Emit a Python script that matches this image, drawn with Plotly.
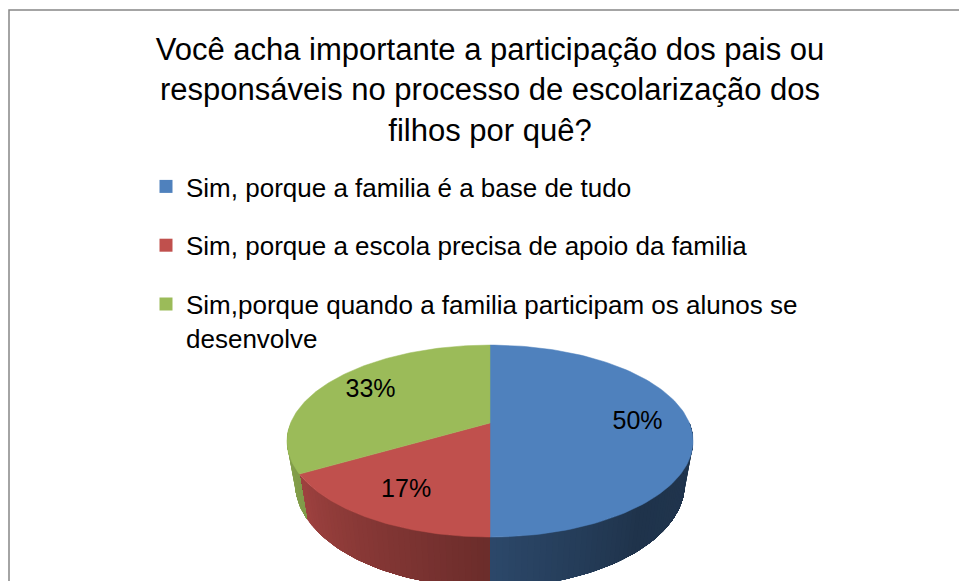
import numpy as np
import plotly.graph_objects as go

# ---------------- data ----------------
categories = [
    "Sim, porque a familia é a base de tudo",
    "Sim, porque a escola precisa de apoio da familia",
    "Sim,porque quando a familia participam os alunos se<br>desenvolve",
]
values = [3, 1, 2]
colors = ["#4F81BD", "#C0504D", "#9BBB59"]
title_text = ("Você acha importante a participação dos pais ou<br>"
              "responsáveis no processo de escolarização dos<br>"
              "filhos por quê?")

# ---------------- geometry / style (3D pie with perspective) ----------------
W, H = 959, 581
CX, CY = 490, 423      # projected pie centre (pixels)
AX, BY = 199.4, 92.6   # horizontal / vertical projection scale
KP = 0.188             # perspective strength
DEPTH = 40.8           # thickness of the pie
BOTTOM_SCALE = 0.96    # bottom rim slightly smaller (further from viewer)
FONT = "Liberation Sans, Arial, sans-serif"


def hex_to_rgb(h):
    h = h.lstrip("#")
    return [int(h[i:i + 2], 16) for i in (0, 2, 4)]


def shade(h, f):
    r, g, b = hex_to_rgb(h)
    return "rgb(%d,%d,%d)" % (min(255, r * f), min(255, g * f), min(255, b * f))


def side_factor(theta):
    return float(np.interp(theta, [-180, -150, -90, -50, 0],
                           [0.90, 0.83, 0.56, 0.40, 0.42]))


def proj(u, v, bottom=False):
    d = 1.0 + KP * v
    sx = AX * (BOTTOM_SCALE if bottom else 1.0)
    x = CX + sx * u / d
    y = CY - BY * v / d + (DEPTH / d if bottom else 0.0)
    return x, y


def rim(theta_deg, bottom=False, r=1.0):
    t = np.radians(theta_deg)
    return proj(r * np.cos(t), r * np.sin(t), bottom)


total = float(sum(values))
fracs = [v / total for v in values]
starts, ends = [], []
a = 90.0
for f in fracs:
    starts.append(a)
    a -= 360.0 * f
    ends.append(a)

fig = go.Figure()

# legend entries (square markers)
for i, (cat, col) in enumerate(zip(categories, colors)):
    fig.add_trace(go.Scatter(
        x=[None], y=[None], mode="markers", name=cat,
        marker=dict(symbol="square", size=13, color=col),
        legendgroup="g%d" % i, showlegend=True, hoverinfo="skip"))

# side faces (visible front part, angles between -180 and 0)
for i, (s, e, col) in enumerate(zip(starts, ends, colors)):
    lo, hi = e, s
    for shift in (0, -360, 360):
        a0 = max(lo + shift, -180.0)
        a1 = min(hi + shift, 0.0)
        if a1 - a0 <= 0.01:
            continue
        n = max(2, int(np.ceil((a1 - a0) / 1.5)))
        edges = np.linspace(a0, a1, n + 1)
        for j in range(n):
            ta, tb = edges[j], edges[j + 1]
            ts = np.linspace(ta, a1, max(3, int((a1 - ta) / 1.5) + 2))
            xs_top, ys_top = rim(ts)
            xs_bot, ys_bot = rim(ts[::-1], bottom=True)
            xs = np.concatenate([xs_top, xs_bot, xs_top[:1]])
            ys = np.concatenate([ys_top, ys_bot, ys_top[:1]])
            c = shade(col, side_factor((ta + tb) / 2))
            fig.add_trace(go.Scatter(
                x=xs, y=ys, mode="lines", fill="toself", fillcolor=c,
                line=dict(width=0), showlegend=False, hoverinfo="skip"))

# top faces
cx0, cy0 = proj(0.0, 0.0)
for i, (s, e, col) in enumerate(zip(starts, ends, colors)):
    ts = np.linspace(s, e, 120)
    xr, yr = rim(ts)
    xs = np.concatenate([[cx0], xr, [cx0]])
    ys = np.concatenate([[cy0], yr, [cy0]])
    fig.add_trace(go.Scatter(
        x=xs, y=ys, mode="lines", fill="toself", fillcolor=col,
        line=dict(color=col, width=0.5), showlegend=False, hoverinfo="skip"))

# percentage labels
lx, ly, lt = [], [], []
for s, e, f in zip(starts, ends, fracs):
    mid = (s + e) / 2.0
    x, y = rim(mid, r=0.74)
    lx.append(float(x))
    ly.append(float(y))
    lt.append("%d%%" % round(f * 100))
fig.add_trace(go.Scatter(
    x=lx, y=ly, mode="text", text=lt,
    textfont=dict(family=FONT, size=25, color="#000000"),
    showlegend=False, hoverinfo="skip"))

fig.update_layout(
    width=W, height=H,
    margin=dict(l=0, r=0, t=0, b=0),
    paper_bgcolor="white", plot_bgcolor="white",
    xaxis=dict(range=[0, W], visible=False, fixedrange=True),
    yaxis=dict(range=[H, 0], visible=False, fixedrange=True),
    title=dict(text=title_text, x=490 / W, xanchor="center",
               y=1 - 60 / H, yanchor="top", yref="container",
               font=dict(family=FONT, size=31, color="#000000")),
    legend=dict(x=146 / W, xanchor="left", y=1 - 163 / H, yanchor="top",
                traceorder="grouped", tracegroupgap=22, valign="top",
                font=dict(family=FONT, size=26, color="#000000"),
                bgcolor="rgba(0,0,0,0)"),
    shapes=[dict(type="rect", xref="x", yref="y", x0=9, y0=10, x1=975, y1=600,
                 line=dict(color="#868686", width=1.5),
                 fillcolor="rgba(0,0,0,0)", layer="below")],
    showlegend=True,
)

fig.write_html("out.html", config={"displayModeBar": False},
               post_script="document.body.style.margin='0';")
